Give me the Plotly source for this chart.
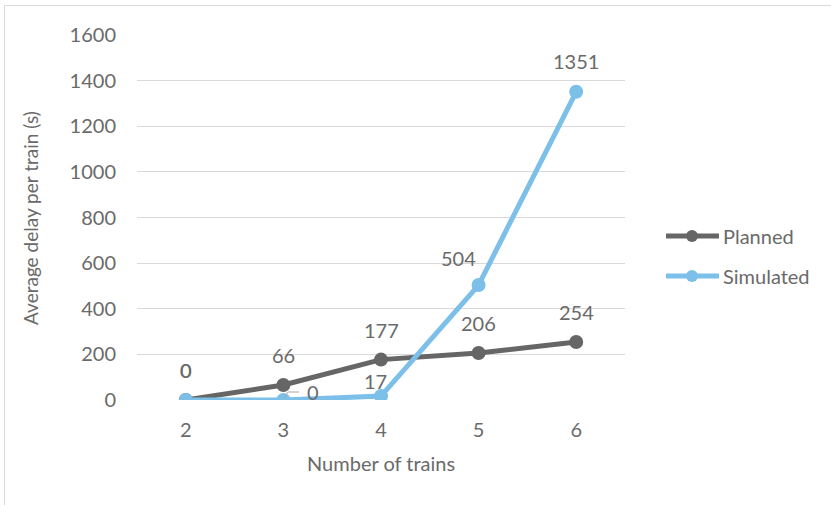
import plotly.graph_objects as go

# Data
trains = [2, 3, 4, 5, 6]
planned = [0, 66, 177, 206, 254]
simulated = [0, 0, 17, 504, 1351]
y_ticks = [0, 200, 400, 600, 800, 1000, 1200, 1400, 1600]

PLANNED_COLOR = "#666666"
SIM_COLOR = "#7cbfe9"
TEXT_COLOR = "#6a6a6a"
FONT = "Lato, 'Open Sans', sans-serif"
FS = 20

W, H = 831, 505
L, R, T, B = 137, 206, 35, 105
PW = W - L - R
PH = H - T - B


def px(xp):
    return (xp - L) / PW


def py(yp):
    return (H - B - yp) / PH


fig = go.Figure()

fig.add_trace(go.Scatter(
    x=trains, y=planned, mode="lines+markers", name="Planned",
    line=dict(color=PLANNED_COLOR, width=5),
    marker=dict(color=PLANNED_COLOR, size=14),
    showlegend=False, hoverinfo="x+y",
))
fig.add_trace(go.Scatter(
    x=trains, y=simulated, mode="lines+markers", name="Simulated",
    line=dict(color=SIM_COLOR, width=5),
    marker=dict(color=SIM_COLOR, size=14),
    showlegend=False, hoverinfo="x+y",
))

label_font = dict(size=FS, color=TEXT_COLOR, family=FONT)
annotations = []
# Value labels for Planned (above points)
for x, v in zip(trains, planned):
    annotations.append(dict(x=x, y=v, text=str(v), showarrow=False,
                            yshift=30, font=label_font))
# Value labels for Simulated
sim_offsets = [(0, 30), (30, 8), (-6, 15), (-20, 27), (0, 31)]
for (x, v), (dx, dy) in zip(zip(trains, simulated), sim_offsets):
    annotations.append(dict(x=x, y=v, text=str(v), showarrow=False,
                            xshift=dx, yshift=dy, font=label_font))

# Axis titles
annotations.append(dict(xref="paper", yref="paper", x=0.5, y=py(463), text="Number of trains",
                        xanchor="center", yanchor="middle", showarrow=False, font=label_font))
annotations.append(dict(xref="paper", yref="paper", x=px(30), y=py(218), text="Average delay per train (s)",
                        xanchor="center", yanchor="middle", textangle=-90, showarrow=False,
                        font=dict(size=19, color=TEXT_COLOR, family=FONT)))

shapes = []
# Leader line for the Simulated label at x=3
shapes.append(dict(type="path", xref="paper", yref="paper",
                   path=f"M {px(284)} {py(398)} L {px(288)} {py(392)} L {px(299)} {py(392)}",
                   line=dict(color="#a6a6a6", width=1)))

# Legend drawn manually
legend_items = [("Planned", PLANNED_COLOR, 236), ("Simulated", SIM_COLOR, 276)]
for name, color, yy in legend_items:
    shapes.append(dict(type="line", xref="paper", yref="paper",
                       x0=px(666), x1=px(719), y0=py(yy), y1=py(yy),
                       line=dict(color=color, width=5)))
    shapes.append(dict(type="circle", xref="paper", yref="paper",
                       x0=px(686), x1=px(698), y0=py(yy + 6), y1=py(yy - 6),
                       fillcolor=color, line=dict(color=color, width=0)))
    annotations.append(dict(xref="paper", yref="paper", x=px(721), y=py(yy), text=name,
                            xanchor="left", yanchor="middle", showarrow=False, font=label_font))

# Chart area border
shapes.append(dict(type="rect", xref="paper", yref="paper",
                   x0=px(4.5), x1=px(840), y0=py(520), y1=py(5.5),
                   line=dict(color="#d9d9d9", width=1), layer="below"))

fig.update_layout(
    width=W, height=H,
    margin=dict(l=L, r=R, t=T, b=B),
    paper_bgcolor="white", plot_bgcolor="white",
    font=dict(family=FONT, size=FS, color=TEXT_COLOR),
    xaxis=dict(range=[1.5, 6.5], tickvals=trains, ticktext=[str(t) for t in trains],
               showgrid=False, zeroline=False, showline=False, ticks="",
               tickfont=dict(size=FS, color=TEXT_COLOR), ticklabelstandoff=16, fixedrange=True),
    yaxis=dict(range=[0, 1600], tickvals=y_ticks, showgrid=True, gridcolor="#d9d9d9",
               gridwidth=1, zeroline=False, showline=False, ticks="",
               tickfont=dict(size=FS, color=TEXT_COLOR), ticklabelstandoff=20, fixedrange=True),
    annotations=annotations,
    shapes=shapes,
    showlegend=False,
)

fig.write_html("out.html")
